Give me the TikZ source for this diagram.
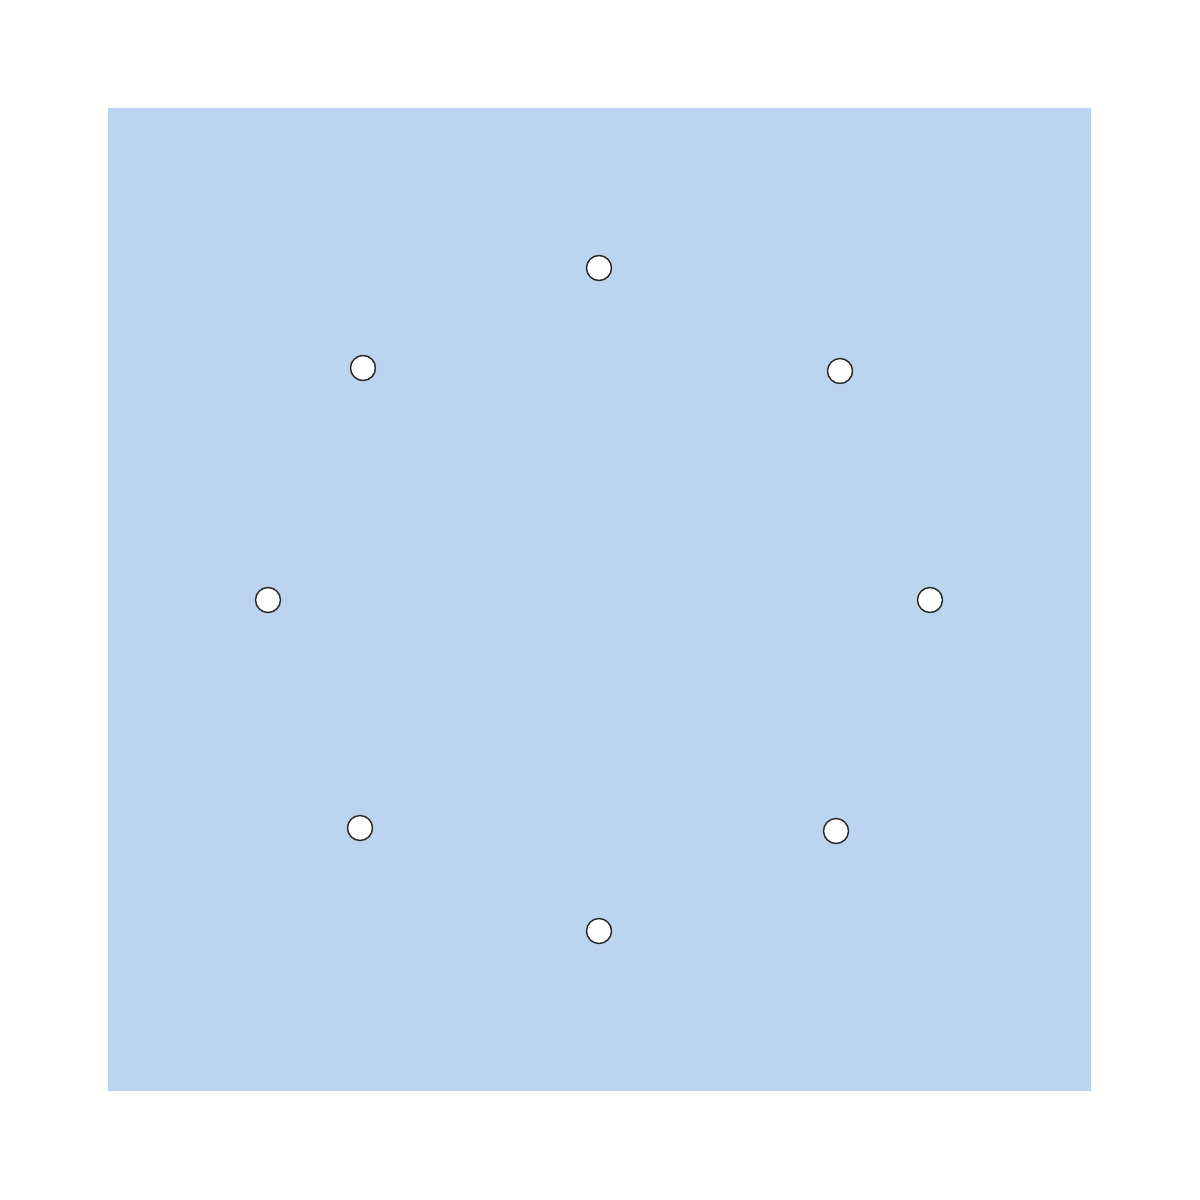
\documentclass[tikz,border=0pt]{standalone}
\definecolor{sq}{HTML}{BBD5F0}
\tikzset{hole/.style={circle,draw=black!85,fill=white,line width=0.8pt,minimum size=0.5cm,inner sep=0pt}}
\begin{document}
\begin{tikzpicture}[x=0.02cm,y=-0.02cm]
\useasboundingbox (0,0) rectangle (1200,1200);
\fill[sq] (108,108) rectangle (1091,1091);
\node[hole] (n1) at (599,268) {};
\node[hole] (n2) at (363,368) {};
\node[hole] (n3) at (840,371) {};
\node[hole] (n4) at (268,600) {};
\node[hole] (n5) at (930,600) {};
\node[hole] (n6) at (360,828) {};
\node[hole] (n7) at (836,831) {};
\node[hole] (n8) at (599,931) {};
\end{tikzpicture}
\end{document}
